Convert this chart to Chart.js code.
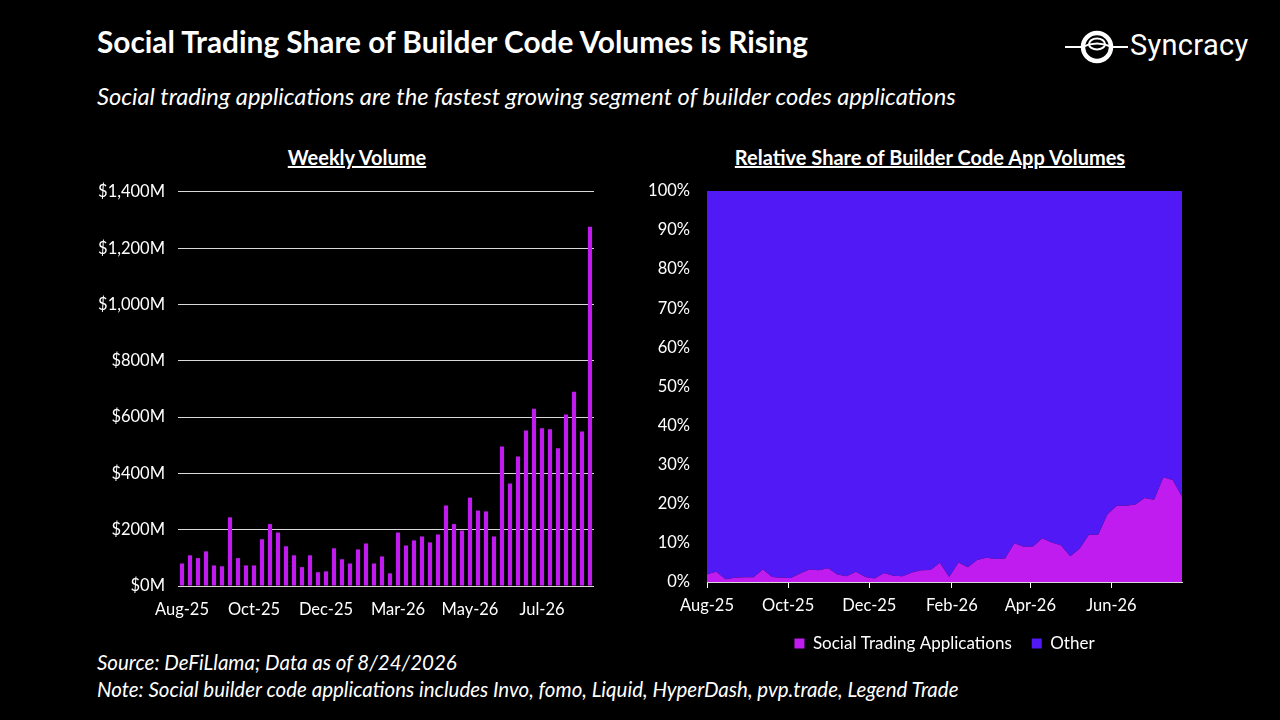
<!DOCTYPE html>
<html>
<head>
<meta charset="utf-8">
<script src="https://cdn.jsdelivr.net/npm/chart.js@4.4.1/dist/chart.umd.min.js"></script>
<style>
  html, body { margin: 0; padding: 0; background: #000; }
  body { width: 1280px; height: 720px; position: relative; overflow: hidden; font-family: Lato, 'Open Sans', sans-serif; color: #fff; }
  .title { position: absolute; left: 97px; top: 24px; font-size: 29.8px; font-weight: 700; white-space: nowrap; }
  .subtitle { position: absolute; left: 97px; top: 82px; font-size: 23.7px; font-style: italic; white-space: nowrap; }
  .panel-title { position: absolute; top: 145px; font-size: 20px; font-weight: 700; text-decoration: underline; transform: translateX(-50%); white-space: nowrap; }
  .note { position: absolute; left: 97px; font-size: 20.5px; font-style: italic; white-space: nowrap; }
  .logo { position: absolute; left: 1062px; top: 28px; width: 200px; height: 40px; }
  .logo span { position: absolute; left: 68px; top: 0px; font-size: 29px; font-family: Roboto, sans-serif; letter-spacing: 0.3px; }
  canvas { position: absolute; }
  #volume-chart { left: 90px; top: 169px; }
  #share-chart { left: 620px; top: 172px; }
</style>
</head>
<body>
<div class="title">Social Trading Share of Builder Code Volumes is Rising</div>
<div class="subtitle">Social trading applications are the fastest growing segment of builder codes applications</div>
<div class="logo">
  <svg width="66" height="40" viewBox="0 0 66 40">
    <circle cx="35" cy="19" r="14" fill="none" stroke="#fff" stroke-width="4.5"/>
    <ellipse cx="35" cy="16" rx="8" ry="5.5" fill="none" stroke="#fff" stroke-width="2"/>
    <path d="M3 19 H20 M50 19 H66" stroke="#fff" stroke-width="2"/>
    <path d="M20 19 Q35 12 50 19" fill="none" stroke="#fff" stroke-width="2"/>
  </svg>
  <span>Syncracy</span>
</div>
<div class="panel-title" style="left:357px">Weekly Volume</div>
<div class="panel-title" style="left:930px">Relative Share of Builder Code App Volumes</div>
<canvas id="volume-chart" width="515" height="451"></canvas>
<canvas id="share-chart" width="572" height="490"></canvas>
<div class="note" style="top:650px">Source: DeFiLlama; Data as of 8/24/2026</div>
<div class="note" style="top:677px">Note: Social builder code applications includes Invo, fomo, Liquid, HyperDash, pvp.trade, Legend Trade</div>

<script>
// weekly volume of social trading builder code apps, $M (week starting Aug 25 2025)
const volumeWeeks = 52;
const volumeValues = [
  80, 109, 99, 123, 73, 70, 244, 99, 73, 73,
  166, 220, 190, 141, 109, 67, 109, 49, 52, 134,
  95, 80, 130, 151, 80, 105, 45, 190, 144, 162,
  176, 155, 183, 286, 220, 197, 314, 268, 265, 176,
  496, 364, 460, 552, 630, 560, 557, 489, 609, 690,
  549, 1276,
];
const volumeTickIndex = [0, 9, 18, 27, 36, 45];
const volumeTickLabels = ['Aug-25', 'Oct-25', 'Dec-25', 'Mar-26', 'May-26', 'Jul-26'];

// share of builder code app volume, %
const socialShare = [
  2.0, 2.6, 0.7, 1.1, 1.2, 1.2, 3.2, 1.3, 1.1, 1.0,
  2.2, 3.2, 3.0, 3.5, 1.9, 1.5, 2.6, 1.3, 0.9, 2.3,
  1.6, 1.5, 2.4, 3.0, 3.1, 4.9, 1.3, 5.0, 3.8, 5.6,
  6.2, 5.9, 6.0, 9.9, 9.0, 9.1, 11.2, 10.1, 9.4, 6.6,
  8.5, 12.1, 12.1, 17.3, 19.5, 19.5, 19.8, 21.5, 21.0, 26.8,
  26.1, 21.8,
];
const otherShare = [
  98.0, 97.4, 99.3, 98.9, 98.8, 98.8, 96.8, 98.7, 98.9, 99.0,
  97.8, 96.8, 97.0, 96.5, 98.1, 98.5, 97.4, 98.7, 99.1, 97.7,
  98.4, 98.5, 97.6, 97.0, 96.9, 95.1, 98.7, 95.0, 96.2, 94.4,
  93.8, 94.1, 94.0, 90.1, 91.0, 90.9, 88.8, 89.9, 90.6, 93.4,
  91.5, 87.9, 87.9, 82.7, 80.5, 80.5, 80.2, 78.5, 79.0, 73.2,
  73.9, 78.2,
];
// days since Aug 25 2025 for the share chart date axis
const shareTickDays = [0, 61, 122, 184, 243, 304];
const shareTickLabels = ['Aug-25', 'Oct-25', 'Dec-25', 'Feb-26', 'Apr-26', 'Jun-26'];

const COLORS = {
  social : '#C01CF0',
  other  : '#5019F5',
  grid   : '#D9D9D9',
  text   : '#FFFFFF',
};

Chart.defaults.font.family = 'Lato, "Open Sans", sans-serif';
Chart.defaults.color = COLORS.text;

(function () {
  // ------------------------------------------------------
  // @Weekly Volume
  // ------------------------------------------------------

  const volumeBox = document.getElementById('volume-chart');

  if (volumeBox) {
    const weekLabels = [];
    const start = new Date(2025, 7, 25);
    for (let i = 0; i < volumeWeeks; i++) {
      const d = new Date(start.getTime() + i * 7 * 86400000);
      weekLabels.push((d.getMonth() + 1) + '/' + d.getDate() + '/' + d.getFullYear());
    }

    new Chart(volumeBox.getContext('2d'), {
      type: 'bar',
      data: {
        labels: weekLabels,
        datasets: [{
          label              : 'Weekly Volume',
          backgroundColor    : COLORS.social,
          borderWidth        : 0,
          barPercentage      : 0.52,
          categoryPercentage : 1,
          data               : volumeValues,
        }],
      },
      options: {
        responsive: false,
        animation: false,
        layout: { padding: { top: 0, right: 11, left: 0, bottom: 0 } },
        plugins: {
          legend: { display: false },
          tooltip: { enabled: false },
        },
        scales: {
          x: {
            grid: { display: false },
            border: { display: false },
            ticks: {
              autoSkip: false,
              maxRotation: 0,
              padding: 6,
              font: { size: 16.5 },
              callback: (value, index) => {
                const k = volumeTickIndex.indexOf(index);
                return k >= 0 ? volumeTickLabels[k] : '';
              },
            },
            afterFit: (scale) => { scale.height = 34; },
          },
          y: {
            min: 0,
            max: 1400,
            grid: { color: COLORS.grid, drawTicks: false, lineWidth: 1 },
            border: { display: false },
            ticks: {
              stepSize: 200,
              padding: 13,
              font: { size: 16.5 },
              callback: (v) => '$' + v.toLocaleString('en-US') + 'M',
            },
            afterFit: (scale) => { scale.width = 88; },
          },
        },
      },
    });
  }

  // ------------------------------------------------------
  // @Relative Share
  // ------------------------------------------------------

  const shareBox = document.getElementById('share-chart');

  if (shareBox) {
    const toPoints = (arr) => arr.map((v, i) => ({ x: i * 7, y: v }));

    new Chart(shareBox.getContext('2d'), {
      type: 'line',
      data: {
        datasets: [{
          label           : 'Social Trading Applications',
          backgroundColor : COLORS.social,
          borderColor     : COLORS.social,
          borderWidth     : 0,
          pointRadius     : 0,
          fill            : 'origin',
          data            : toPoints(socialShare),
        }, {
          label           : 'Other',
          backgroundColor : COLORS.other,
          borderColor     : COLORS.other,
          borderWidth     : 0,
          pointRadius     : 0,
          fill            : '-1',
          data            : toPoints(otherShare),
        }],
      },
      options: {
        responsive: false,
        animation: false,
        layout: { padding: { top: 0, right: 10, left: 0, bottom: 0 } },
        plugins: {
          tooltip: { enabled: false },
          legend: {
            position: 'bottom',
            fullSize: false,
            labels: {
              boxWidth: 10,
              boxHeight: 10,
              padding: 20,
              font: { size: 17 },
            },
          },
        },
        scales: {
          x: {
            type: 'linear',
            min: 0,
            max: (volumeWeeks - 1) * 7,
            afterBuildTicks: (scale) => {
              scale.ticks = shareTickDays.map((v) => ({ value: v }));
            },
            grid: { display: true, drawOnChartArea: false, color: COLORS.text, tickLength: 6 },
            border: { display: true, color: COLORS.grid, width: 1 },
            ticks: {
              maxRotation: 0,
              autoSkip: false,
              padding: 8,
              font: { size: 16.5 },
              callback: (v) => shareTickLabels[shareTickDays.indexOf(v)],
            },
            afterFit: (scale) => { scale.height = 33; },
          },
          y: {
            stacked: true,
            min: 0,
            max: 100,
            grid: { display: false },
            border: { display: false },
            ticks: {
              stepSize: 10,
              padding: 9,
              font: { size: 16.5 },
              callback: (v) => v + '%',
            },
            afterFit: (scale) => { scale.width = 87; },
          },
        },
      },
    });
  }
}());
</script>
</body>
</html>
